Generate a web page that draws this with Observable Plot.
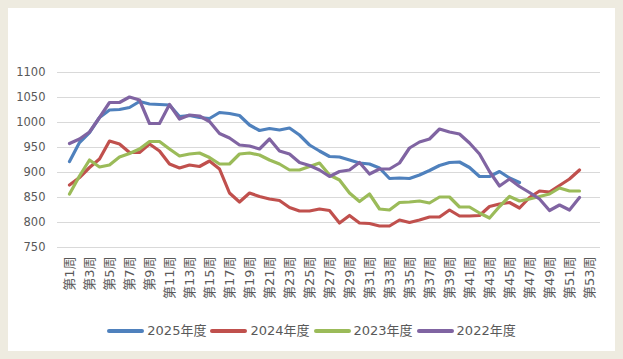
<!DOCTYPE html>
<html>
<head>
<meta charset="utf-8">
<script src="https://cdn.jsdelivr.net/npm/d3@7"></script>
<script src="https://cdn.jsdelivr.net/npm/@observablehq/plot@0.6"></script>
<style>
  html, body { margin: 0; padding: 0; background: #EEEBE0; }
  body { width: 623px; height: 359px; position: relative; overflow: hidden; }
  #panel { position: absolute; left: 8px; top: 8px; width: 607px; height: 343px; background: #ffffff; }
  #chart svg { display: block; }
  #legend { position: absolute; left: 0; top: 315px; width: 607px; display: flex; justify-content: center; align-items: center;
            font-family: "DejaVu Sans", "Noto Sans CJK SC", sans-serif; font-size: 13px; color: #595959; line-height: 16px; }
  .item { display: flex; align-items: center; margin: 0 2px; }
  .swatch { width: 37px; height: 3.5px; border-radius: 2px; margin-right: 3px; }
</style>
</head>
<body>
<div id="panel">
  <div id="chart"></div>
  <div id="legend"></div>
</div>
<script>
const weeks = ["第1周","第2周","第3周","第4周","第5周","第6周","第7周","第8周","第9周","第10周",
  "第11周","第12周","第13周","第14周","第15周","第16周","第17周","第18周","第19周","第20周",
  "第21周","第22周","第23周","第24周","第25周","第26周","第27周","第28周","第29周","第30周",
  "第31周","第32周","第33周","第34周","第35周","第36周","第37周","第38周","第39周","第40周",
  "第41周","第42周","第43周","第44周","第45周","第46周","第47周","第48周","第49周","第50周",
  "第51周","第52周","第53周"];
const xTickLabels = ["第1周","第3周","第5周","第7周","第9周","第11周","第13周","第15周","第17周","第19周",
  "第21周","第23周","第25周","第27周","第29周","第31周","第33周","第35周","第37周","第39周",
  "第41周","第43周","第45周","第47周","第49周","第51周","第53周"];
const yTicks = [750, 800, 850, 900, 950, 1000, 1050, 1100];

const seriesNames = ["2025年度", "2024年度", "2023年度", "2022年度"];
const seriesColors = ["#4F81BD", "#C0504D", "#9BBB59", "#8064A2"];

const v2025 = [922,960,980,1010,1025,1026,1030,1042,1037,1036,1035,1012,1014,1010,1008,1020,1018,1014,995,984,
  988,985,989,975,955,943,932,931,925,919,917,909,888,889,888,895,904,914,920,921,910,892,892,902,889,880];
const v2024 = [875,890,910,927,963,957,940,940,957,943,917,909,915,912,923,907,859,841,859,852,
  847,844,830,823,823,827,824,799,814,799,798,793,793,805,800,805,811,811,825,813,
  813,814,832,837,840,829,850,863,861,874,887,905];
const v2023 = [857,893,925,911,915,931,938,947,962,962,947,933,937,939,930,917,917,937,939,935,
  925,917,905,905,912,919,895,885,859,842,857,827,825,840,841,843,839,851,851,831,
  831,819,809,832,852,843,847,852,857,869,863,863];
const v2022 = [958,967,981,1010,1040,1040,1051,1045,998,998,1036,1007,1015,1013,1002,978,969,955,953,947,
  967,943,937,920,914,905,892,902,905,920,897,907,907,919,949,961,967,987,981,977,
  959,937,902,873,887,872,860,847,824,835,825,850];

const seriesValues = [v2025, v2024, v2023, v2022];
const rows = [];
seriesValues.forEach((vals, s) => {
  vals.forEach((v, i) => rows.push({week: weeks[i], value: v, series: seriesNames[s]}));
});

const fontFamily = '"DejaVu Sans", "Noto Sans CJK SC", sans-serif';

const chart = Plot.plot({
  width: 607,
  height: 300,
  marginLeft: 49,
  marginRight: 15,
  marginTop: 64,
  marginBottom: 61,
  style: {fontFamily, color: "#595959", background: "transparent"},
  x: {type: "point", domain: weeks, padding: 0.5},
  y: {domain: [750, 1100]},
  color: {domain: seriesNames, range: seriesColors},
  marks: [
    Plot.ruleY(yTicks, {stroke: "#D9D9D9", strokeWidth: 1}),
    Plot.axisY({ticks: yTicks, tickFormat: d => String(d), tickSize: 0, tickPadding: 12, fontSize: 11.5, fill: "#595959", label: null}),
    Plot.axisX({ticks: xTickLabels, tickSize: 0, tickPadding: 9, tickRotate: -90, fontSize: 13, fill: "#595959", label: null}),
    Plot.line(rows, {x: "week", y: "value", z: "series", stroke: "series", strokeWidth: 3.2,
      strokeLinejoin: "round", strokeLinecap: "round"})
  ]
});
document.getElementById("chart").appendChild(chart);

const legend = document.getElementById("legend");
seriesNames.forEach((name, i) => {
  const item = document.createElement("div");
  item.className = "item";
  const sw = document.createElement("span");
  sw.className = "swatch";
  sw.style.background = seriesColors[i];
  const label = document.createElement("span");
  label.textContent = name;
  item.appendChild(sw);
  item.appendChild(label);
  legend.appendChild(item);
});
</script>
</body>
</html>
